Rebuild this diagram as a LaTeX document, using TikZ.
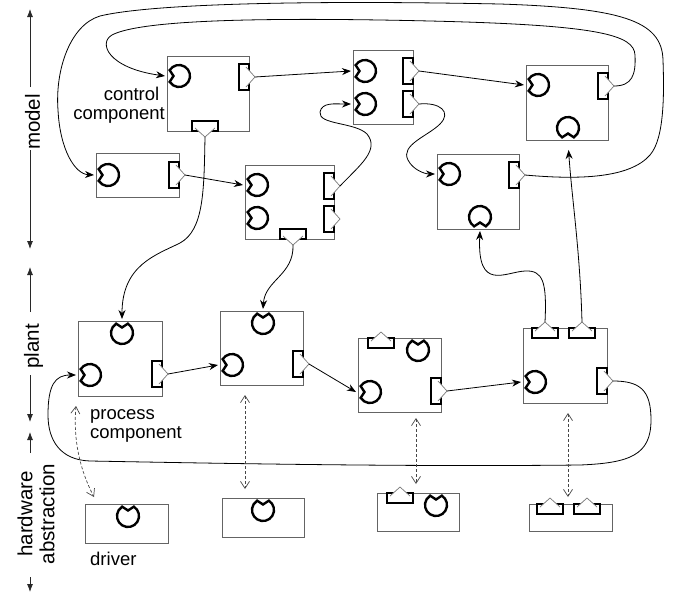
\documentclass[tikz,border=0pt]{standalone}
\usepackage{fontspec}
\setmainfont{Liberation Sans}
\usetikzlibrary{arrows.meta}
\definecolor{boxgray}{RGB}{100,100,100}
\definecolor{trigray}{RGB}{120,120,120}
\definecolor{dashgray}{RGB}{70,70,70}
\definecolor{axgray}{RGB}{40,40,40}
\begin{document}
\begin{tikzpicture}[x=1pt,y=-1pt,
  box/.style={draw=boxgray, line width=0.9pt, inner sep=0pt, fill=white},
  portline/.style={line width=2.4pt, draw=black, line join=miter, fill=white},
  tri/.style={draw=trigray, line width=0.7pt},
  conn/.style={line width=0.8pt, draw=black, -{Stealth[length=9pt,width=7pt]}},
  dbl/.style={line width=0.7pt, draw=dashgray, dash pattern=on 3pt off 2pt,
    {Straight Barb[length=7pt,width=9pt]}-{Straight Barb[length=7pt,width=9pt]}},
  axline/.style={line width=0.8pt, draw=axgray, -{Latex[length=8pt,width=6pt]}},
  lbl/.style={inner sep=0pt, font=\fontsize{18.5}{20}\selectfont},
  axlbl/.style={inner sep=0pt, font=\fontsize{20.5}{22}\selectfont, rotate=90},
  sock/.pic={
    \draw[portline] (32:11) arc[start angle=32, end angle=328, radius=11] -- (5.5,0) -- cycle;
    \coordinate (-p) at (14,0);
  },
  plug/.pic={
    \draw[portline] (-10,-13) rectangle (0,13);
    \fill[white] (-3,-10) -- (6,0) -- (-3,10) -- cycle;
    \draw[tri] (-3,-10) -- (6,0) -- (-3,10);
    \coordinate (-p) at (6,0);
  }
]
\useasboundingbox (0,0) rectangle (673,595);

% ---------- axes ----------
\node[axlbl] (lm) at (32.5,122) {model};
\node[axlbl] (lp) at (33.5,346.5) {plant};
\node[axlbl, align=center] (lh) at (36,514) {hardware\\abstraction};
\coordinate (ma) at (30,87);  \coordinate (mt) at (30,9);
\coordinate (mb0) at (30,150); \coordinate (mb) at (30,249);
\coordinate (pa) at (30,312); \coordinate (ptp) at (30,267);
\coordinate (pb0) at (30,375); \coordinate (pbt) at (30,422);
\coordinate (ha) at (30,453); \coordinate (htp) at (30,432);
\coordinate (hb0) at (30,577); \coordinate (hbt) at (30,592);
\draw[axline] (ma) -- (mt);
\draw[axline] (mb0) -- (mb);
\draw[axline] (pa) -- (ptp);
\draw[axline] (pb0) -- (pbt);
\draw[axline] (ha) -- (htp);
\draw[axline] (hb0) -- (hbt);

% ---------- boxes ----------
\node[box, minimum width=82pt, minimum height=75pt] (C1) at (208,93.5) {};
\node[box, minimum width=83pt, minimum height=44pt] (M2) at (137.5,175) {};
\node[box, minimum width=89pt, minimum height=74pt] (M3) at (289.5,202) {};
\node[box, minimum width=60pt, minimum height=74pt] (M4) at (383,87) {};
\node[box, minimum width=82pt, minimum height=75pt] (M5) at (567,102.5) {};
\node[box, minimum width=82pt, minimum height=75pt] (M6) at (478,191.5) {};
\node[box, minimum width=84pt, minimum height=75pt] (P1) at (120,358.5) {};
\node[box, minimum width=83pt, minimum height=74pt] (P2) at (261.5,348) {};
\node[box, minimum width=83pt, minimum height=74pt] (P3) at (399.5,375) {};
\node[box, minimum width=84pt, minimum height=75pt] (P4) at (565,365.5) {};
\node[box, minimum width=83pt, minimum height=39pt] (H1) at (126.5,523.5) {};
\node[box, minimum width=82pt, minimum height=39pt] (H2) at (263,517.5) {};
\node[box, minimum width=82pt, minimum height=38pt] (H3) at (418,512) {};
\node[box, minimum width=83pt, minimum height=27pt] (H4) at (570.5,517.5) {};

% ---------- labels ----------
\node[lbl, anchor=base east] (tctl1) at (159.5,100) {control};
\node[lbl, anchor=base east] (tctl2) at (165,119) {component};
\node[lbl, anchor=base west] (tpc1) at (90,419) {process};
\node[lbl, anchor=base west] (tpc2) at (90,438) {component};
\node[lbl, anchor=base west] (tdrv) at (90,565) {driver};

% ---------- sockets ----------
\pic[rotate=180] (c1i) at (179,76) {sock};
\pic[rotate=180] (m2i) at (108,175) {sock};
\pic[rotate=180] (m3i1) at (257,185) {sock};
\pic[rotate=180] (m3i2) at (257,218) {sock};
\pic[rotate=180] (m4i1) at (365,71) {sock};
\pic[rotate=180] (m4i2) at (365,104) {sock};
\pic[rotate=180] (m5i) at (538,85) {sock};
\pic[rotate=-90] (m5b) at (568,128) {sock};
\pic[rotate=180] (m6i) at (449,174) {sock};
\pic[rotate=-90] (m6b) at (480,217) {sock};
\pic[rotate=90] (p1t) at (122,333) {sock};
\pic[rotate=180] (p1i) at (90,375) {sock};
\pic[rotate=90] (p2t) at (263,323) {sock};
\pic[rotate=180] (p2i) at (232,365) {sock};
\pic[rotate=90] (p3t) at (418,350) {sock};
\pic[rotate=180] (p3i) at (370,392) {sock};
\pic[rotate=180] (p4i) at (535,382) {sock};
\pic[rotate=90] (h1t) at (128,516) {sock};
\pic[rotate=90] (h2t) at (263,510) {sock};
\pic[rotate=90] (h3t) at (436,505) {sock};

% ---------- plugs ----------
\pic (c1o) at (249,77) {plug};
\pic[rotate=-90] (c1b) at (205,131) {plug};
\pic (m2o) at (179,175) {plug};
\pic (m3o1) at (334,186) {plug};
\pic (m3o2) at (334,219) {plug};
\pic[rotate=-90] (m3b) at (293,239) {plug};
\pic (m4o1) at (413,71) {plug};
\pic (m4o2) at (413,104) {plug};
\pic (m5o) at (608,86) {plug};
\pic (m6o) at (519,175) {plug};
\pic (p1o) at (162,374) {plug};
\pic (p2o) at (303,364) {plug};
\pic (p3o) at (441,391) {plug};
\pic[rotate=90] (p3p) at (381,338) {plug};
\pic (p4o) at (607,381) {plug};
\pic[rotate=90] (p4t1) at (545,328) {plug};
\pic[rotate=90] (p4t2) at (582,328) {plug};
\pic[rotate=90] (h3p) at (400,493) {plug};
\pic[rotate=90] (h4p1) at (550,504) {plug};
\pic[rotate=90] (h4p2) at (587,504) {plug};

% ---------- connectors ----------
\draw[conn] (c1o-p) -- (m4i1-p);
\draw[conn] (m4o1-p) -- (m5i-p);
\draw[conn] (m5o-p) .. controls (632,86) and (636,75) .. (635,55)
  .. controls (634,35) and (600,25) .. (430,21)
  .. controls (260,17) and (140,20) .. (112,35)
  .. controls (98,43) and (108,68) .. (c1i-p);
\draw[conn] (m6o-p) .. controls (580,180) and (630,178) .. (650,155)
  .. controls (665,138) and (664,90) .. (663,60)
  .. controls (662,20) and (620,8) .. (500,4)
  .. controls (300,0) and (150,4) .. (100,16)
  .. controls (70,25) and (55,70) .. (58,110)
  .. controls (60,150) and (75,174) .. (m2i-p);
\draw[conn] (m2o-p) -- (m3i1-p);
\draw[conn] (m3o1-p) .. controls (360,165) and (380,150) .. (367,134)
  .. controls (355,122) and (318,125) .. (320,112)
  .. controls (322,102) and (335,104) .. (m4i2-p);
\draw[conn] (m4o2-p) .. controls (440,102) and (452,112) .. (440,124)
  .. controls (428,136) and (400,145) .. (408,160)
  .. controls (413,170) and (425,174) .. (m6i-p);
\draw[conn] (c1b-p) .. controls (204,190) and (204,230) .. (180,243)
  .. controls (156,255) and (122,265) .. (p1t-p);
\draw[conn] (m3b-p) .. controls (294,275) and (265,280) .. (p2t-p);
\draw[conn] (p4t1-p) .. controls (547,282) and (543,270) .. (525,271)
  .. controls (505,272) and (477,292) .. (m6b-p);
\draw[conn, shorten >=8pt] (p4t2-p) .. controls (580,250) and (572,200) .. (m5b-p);
\draw[conn] (p1o-p) -- (p2i-p);
\draw[conn] (p2o-p) -- (p3i-p);
\draw[conn] (p3o-p) -- (p4i-p);
\draw[conn] (p4o-p) .. controls (640,381) and (651,390) .. (651,420)
  .. controls (651,455) and (630,463) .. (580,465)
  .. controls (400,467) and (200,463) .. (90,461)
  .. controls (60,460) and (48,440) .. (48,415)
  .. controls (48,385) and (55,375) .. (p1i-p);

% ---------- dashed hardware links ----------
\coordinate (d1a) at (76,406); \coordinate (d1b) at (94,497);
\coordinate (d2a) at (245,395); \coordinate (d2b) at (245,489);
\coordinate (d3a) at (416,418); \coordinate (d3b) at (416,484);
\coordinate (d4a) at (568,413); \coordinate (d4b) at (568,497);
\draw[dbl] (d1a) .. controls (73,440) and (80,470) .. (d1b);
\draw[dbl] (d2a) -- (d2b);
\draw[dbl] (d3a) -- (d3b);
\draw[dbl] (d4a) -- (d4b);
\end{tikzpicture}
\end{document}
